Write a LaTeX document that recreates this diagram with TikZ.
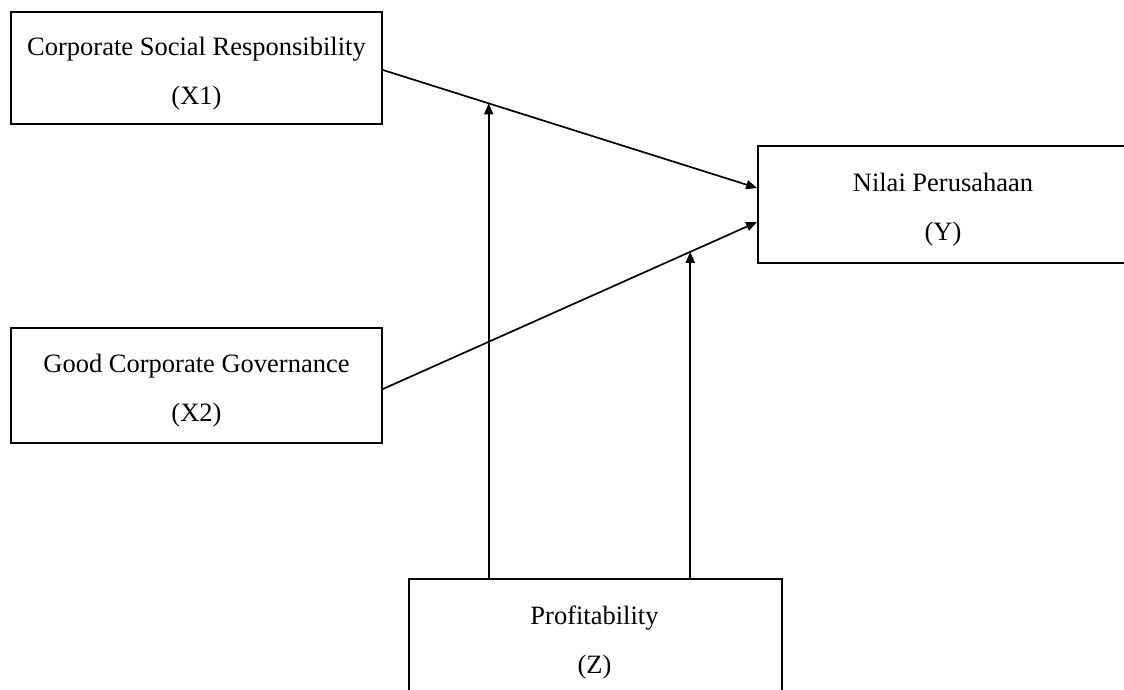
\documentclass[tikz,border=0pt]{standalone}
\usepackage{fontspec}
\setmainfont{Liberation Serif}
\usetikzlibrary{arrows.meta,calc}
\begin{document}
\begin{tikzpicture}[x=1pt,y=-1pt,
  varbox/.style={draw=black, line width=1.8pt, inner sep=0pt},
  vartext/.style={inner sep=0pt, align=center, font=\fontsize{26.5}{49}\selectfont},
  conn/.style={line width=1.7pt, -{Triangle[length=11pt,width=9pt]}}]
\useasboundingbox (0,0) rectangle (1124,689);
\node[varbox, minimum width=371pt, minimum height=112pt] (X1) at (196.5,68) {};
\node[varbox, minimum width=371pt, minimum height=115pt] (X2) at (196.5,385.5) {};
\node[varbox, minimum width=370pt, minimum height=117pt] (Y) at (943,204.5) {};
\node[varbox, minimum width=373pt, minimum height=118pt] (Z) at (595.5,638) {};
\node[vartext] (X1t) at ($(X1)+(0,6)$) {Corporate Social Responsibility\\(X1)};
\node[vartext] (X2t) at ($(X2)+(0,5)$) {Good Corporate Governance\\(X2)};
\node[vartext] (Yt) at ($(Y)+(0,5)$) {Nilai Perusahaan\\(Y)};
\node[vartext] (Zt) at ($(Z)+(-1,4)$) {Profitability\\(Z)};
\coordinate (Ya) at ($(Y.west)+(0,-16.5)$);
\coordinate (Yb) at ($(Y.west)+(0,17.5)$);
\coordinate (X1o) at ($(X1.east)+(0,2)$);
\coordinate (X2o) at ($(X2.east)+(0,3.5)$);
\draw[conn] (X1o) -- (Ya);
\draw[conn] (X2o) -- (Yb);
\coordinate (m1) at ($(X1o)!0.2827!(Ya)$);
\coordinate (m2) at ($(X2o)!0.8213!(Yb)$);
\draw[conn] (Z.north -| m1) -- (m1);
\draw[conn] (Z.north -| m2) -- (m2);
\end{tikzpicture}
\end{document}
